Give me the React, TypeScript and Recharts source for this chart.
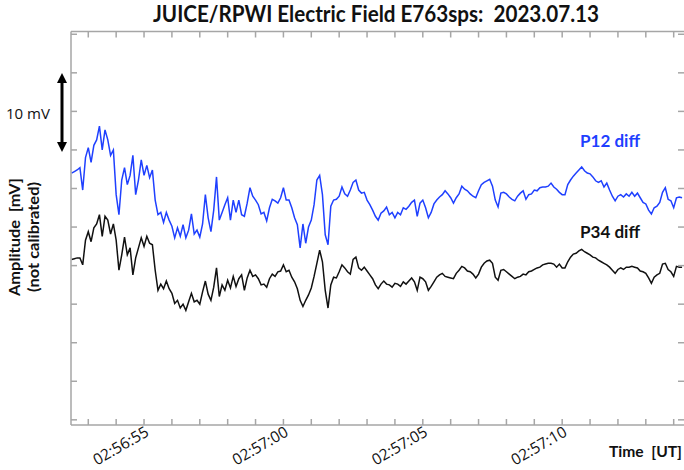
import React from "react";
import { LineChart, Line, XAxis, YAxis } from "recharts";

// time in seconds after 02:56:00 UT
const times = [
  52.4, 52.5, 52.6, 52.7, 52.8, 52.9, 53.0, 53.1, 53.2, 53.3,
  53.4, 53.5, 53.6, 53.7, 53.8, 53.9, 54.0, 54.1, 54.2, 54.3,
  54.4, 54.5, 54.6, 54.7, 54.8, 54.9, 55.0, 55.1, 55.2, 55.3,
  55.4, 55.5, 55.6, 55.7, 55.8, 55.9, 56.0, 56.1, 56.2, 56.3,
  56.4, 56.5, 56.6, 56.7, 56.8, 56.9, 57.0, 57.1, 57.2, 57.3,
  57.4, 57.5, 57.6, 57.7, 57.8, 57.9, 58.0, 58.1, 58.2, 58.3,
  58.4, 58.5, 58.6, 58.7, 58.8, 58.9, 59.0, 59.1, 59.2, 59.3,
  59.4, 59.5, 59.6, 59.7, 59.8, 59.9, 60.0, 60.1, 60.2, 60.3,
  60.4, 60.5, 60.6, 60.7, 60.8, 60.9, 61.0, 61.1, 61.2, 61.3,
  61.4, 61.5, 61.6, 61.7, 61.8, 61.9, 62.0, 62.1, 62.2, 62.3,
  62.4, 62.5, 62.6, 62.7, 62.8, 62.9, 63.0, 63.1, 63.2, 63.3,
  63.4, 63.5, 63.6, 63.7, 63.8, 63.9, 64.0, 64.1, 64.2, 64.3,
  64.4, 64.5, 64.6, 64.7, 64.8, 64.9, 65.0, 65.1, 65.2, 65.3,
  65.4, 65.5, 65.6, 65.7, 65.8, 65.9, 66.0, 66.1, 66.2, 66.3,
  66.4, 66.5, 66.6, 66.7, 66.8, 66.9, 67.0, 67.1, 67.2, 67.3,
  67.4, 67.5, 67.6, 67.7, 67.8, 67.9, 68.0, 68.1, 68.2, 68.3,
  68.4, 68.5, 68.6, 68.7, 68.8, 68.9, 69.0, 69.1, 69.2, 69.3,
  69.4, 69.5, 69.6, 69.7, 69.8, 69.9, 70.0, 70.1, 70.2, 70.3,
  70.4, 70.5, 70.6, 70.7, 70.8, 70.9, 71.0, 71.1, 71.2, 71.3,
  71.4, 71.5, 71.6, 71.7, 71.8, 71.9, 72.0, 72.1, 72.2, 72.3,
  72.4, 72.5, 72.6, 72.7, 72.8, 72.9, 73.0, 73.1, 73.2, 73.3,
  73.4, 73.5, 73.6, 73.7, 73.8, 73.9, 74.0, 74.1, 74.2, 74.3,
];

// P12 diff (mV, not calibrated)
const p12 = [
  7.0, 7.2, 7.4, 7.7, 4.8, 9.0, 10.3, 8.4, 10.6, 11.3,
  13.1, 10.0, 12.6, 11.3, 9.3, 10.0, 4.2, 1.6, 6.1, 7.7,
  5.5, 6.7, 9.3, 4.2, 6.1, 8.7, 6.7, 8.0, 6.4, 7.4,
  3.5, 1.6, 1.9, 0.6, 1.9, 0.9, 0.1, -1.4, -0.1, -1.2,
  0.3, -1.4, -0.4, 1.7, -0.9, -0.4, -1.3, 0.4, 4.2, 1.2,
  -0.6, 2.2, 6.5, 0.9, 1.9, 2.9, 3.8, 0.9, 3.5, 1.9,
  3.5, 1.6, 1.4, 3.1, 5.1, 4.0, 3.5, 2.9, 1.7, 1.9,
  0.8, 2.5, 3.6, 3.4, 3.1, 3.8, 5.1, 3.5, 3.5, 2.5,
  1.2, 0.3, -2.7, 0.4, -2.1, 0.0, 0.9, 2.9, 6.1, 6.7,
  4.2, -1.0, -2.3, 2.7, 3.5, 3.6, 4.0, 5.2, 4.3, 4.0,
  4.8, 5.8, 6.1, 4.8, 4.4, 4.5, 3.5, 2.9, 2.2, 1.4,
  0.9, 1.8, 2.1, 2.6, 1.6, 1.9, 1.2, 1.9, 1.6, 2.5,
  2.3, 2.7, 3.2, 3.5, 1.4, 3.1, 3.5, 2.5, 1.2, 1.9,
  3.0, 3.5, 3.9, 4.2, 4.7, 4.3, 3.8, 3.1, 3.8, 4.3,
  5.3, 4.9, 4.7, 4.3, 4.0, 3.8, 4.7, 5.5, 5.8, 6.0,
  6.2, 5.3, 3.5, 2.6, 4.4, 4.5, 4.3, 3.9, 3.6, 3.4,
  4.0, 4.4, 4.7, 3.6, 4.2, 4.3, 4.8, 4.7, 5.1, 5.2,
  5.2, 5.3, 5.7, 5.2, 4.9, 4.5, 4.2, 4.2, 5.5, 6.1,
  6.6, 7.0, 7.4, 7.8, 7.3, 7.0, 6.9, 6.5, 6.0, 5.8,
  6.0, 5.2, 5.7, 4.8, 4.0, 3.4, 4.0, 4.2, 3.9, 4.3,
  4.0, 4.5, 4.0, 4.4, 3.8, 3.2, 3.0, 2.2, 1.7, 2.5,
  2.7, 3.2, 4.5, 5.1, 3.6, 3.4, 2.5, 3.8, 3.9, 3.8,
];

// P34 diff (mV, not calibrated)
const p34 = [
  -4.2, -4.1, -4.0, -4.0, -4.9, -1.7, -0.6, -1.9, -0.1, 0.4,
  1.6, -1.2, 1.4, 0.9, -0.9, 0.4, -1.7, -5.6, -3.6, -1.3,
  -3.6, -2.7, -6.2, -4.0, -2.7, -1.4, -2.5, -1.2, -2.1, -2.3,
  -5.6, -8.2, -7.4, -8.0, -7.0, -8.0, -8.6, -9.9, -9.5, -10.5,
  -10.0, -10.8, -9.7, -8.6, -9.7, -9.5, -10.0, -8.4, -7.0, -8.7,
  -9.5, -7.8, -5.3, -9.0, -7.5, -8.2, -6.9, -7.9, -6.4, -7.7,
  -6.7, -6.2, -8.2, -6.6, -5.6, -6.4, -6.2, -6.7, -7.5, -7.4,
  -7.8, -6.7, -6.1, -6.4, -5.8, -5.7, -4.9, -5.8, -5.6, -6.5,
  -7.1, -8.0, -9.5, -10.3, -9.5, -8.8, -7.9, -6.4, -4.7, -3.0,
  -4.5, -8.2, -10.5, -7.5, -6.5, -6.6, -5.8, -4.9, -5.3, -5.8,
  -6.1, -4.2, -3.9, -5.3, -5.6, -5.2, -5.7, -6.2, -6.7, -7.5,
  -8.0, -7.4, -7.0, -7.4, -7.5, -7.8, -7.3, -7.4, -7.7, -7.1,
  -7.4, -7.0, -6.6, -7.1, -8.2, -6.5, -6.7, -7.1, -8.2, -7.7,
  -7.1, -6.5, -6.2, -6.0, -6.4, -6.5, -6.6, -6.7, -6.0, -5.6,
  -5.1, -5.3, -5.7, -5.8, -6.1, -6.6, -6.1, -5.2, -4.7, -4.4,
  -4.3, -4.7, -6.5, -6.9, -5.6, -5.5, -5.8, -6.1, -6.4, -6.7,
  -6.5, -6.4, -6.1, -6.2, -5.8, -5.7, -5.5, -5.3, -5.2, -4.9,
  -4.8, -4.7, -4.7, -4.8, -5.2, -4.8, -5.3, -5.3, -4.5, -3.9,
  -3.5, -3.4, -3.1, -2.9, -3.2, -3.4, -3.6, -3.9, -4.0, -4.3,
  -4.5, -4.7, -4.9, -5.2, -5.6, -6.0, -5.5, -5.3, -5.5, -5.2,
  -5.2, -5.1, -5.2, -5.3, -5.7, -5.8, -6.0, -6.6, -7.3, -6.5,
  -6.2, -6.0, -4.8, -4.7, -5.5, -5.8, -6.4, -5.1, -5.2, -5.2,
];

const timeTicks = [53, 54, 55, 56, 57, 58, 59, 60, 61, 62, 63, 64, 65, 66, 67, 68, 69, 70, 71, 72, 73, 74];
const labelTicks = [55, 60, 65, 70];
const labelTexts = ["02:56:55", "02:57:00", "02:57:05", "02:57:10"];
const yTicks = [-25, -20, -15, -10, -5, 0, 5, 10, 15, 20, 25];

const data = times.map((t, i) => ({ t, p12: p12[i], p34: p34[i] }));

const AXIS = "#a6a6a6";
const axisLine = { stroke: AXIS, strokeWidth: 1.5 };
const tickLine = { stroke: AXIS, strokeWidth: 1.5 };
const noTick = () => <g />;

const BottomTick = (props: any) => {
  const { x, y, payload } = props;
  const idx = labelTicks.indexOf(payload.value);
  if (idx < 0) return <g />;
  const ax = x + 6;
  const ay = y + 14;
  return (
    <text
      x={ax}
      y={ay}
      textAnchor="end"
      transform={`rotate(-30, ${ax}, ${ay})`}
      fontFamily="'Open Sans', sans-serif"
      fontSize={15.5}
      fill="#111"
    >
      {labelTexts[idx]}
    </text>
  );
};

export default function App() {
  return (
    <div style={{ position: "absolute", left: 0, top: 0, width: 684, height: 470, overflow: "hidden", background: "#fff" }}>
      <LineChart width={685} height={470} data={data} margin={{ top: 30.5, right: 0, bottom: 0, left: 0 }}>
        <XAxis
          xAxisId="b"
          dataKey="t"
          type="number"
          domain={[52.38, 74.37]}
          allowDataOverflow
          ticks={timeTicks}
          interval={0}
          height={45}
          tickSize={-6}
          axisLine={axisLine}
          tickLine={tickLine}
          tick={BottomTick}
        />
        <XAxis
          xAxisId="top"
          orientation="top"
          dataKey="t"
          type="number"
          domain={[52.38, 74.37]}
          allowDataOverflow
          ticks={timeTicks}
          interval={0}
          height={1}
          tickSize={-6}
          axisLine={axisLine}
          tickLine={tickLine}
          tick={noTick}
        />
        <YAxis
          yAxisId="l"
          type="number"
          domain={[-25.67, 25.36]}
          allowDataOverflow
          ticks={yTicks}
          interval={0}
          width={71}
          tickSize={-6}
          axisLine={axisLine}
          tickLine={tickLine}
          tick={noTick}
        />
        <YAxis
          yAxisId="r"
          orientation="right"
          type="number"
          domain={[-25.67, 25.36]}
          allowDataOverflow
          ticks={yTicks}
          interval={0}
          width={1}
          tickSize={-6}
          axisLine={false}
          tickLine={tickLine}
          tick={noTick}
        />
        <Line
          xAxisId="b"
          yAxisId="l"
          dataKey="p12"
          type="linear"
          stroke="#1f40ff"
          strokeWidth={1.5}
          dot={false}
          isAnimationActive={false}
        />
        <Line
          xAxisId="b"
          yAxisId="l"
          dataKey="p34"
          type="linear"
          stroke="#111"
          strokeWidth={1.5}
          dot={false}
          isAnimationActive={false}
        />
      </LineChart>
      <svg
        width={684}
        height={470}
        style={{ position: "absolute", left: 0, top: 0, pointerEvents: "none" }}
      >
        <text
          x={376}
          y={22}
          textAnchor="middle"
          fontFamily="Lato, sans-serif"
          fontWeight="bold"
          fontSize={22}
          fill="#111"
          textLength={446}
          lengthAdjust="spacingAndGlyphs"
          style={{ whiteSpace: "pre" }}
        >
          {"JUICE/RPWI Electric Field E763sps:  2023.07.13"}
        </text>
        <text x={6} y={119} fontFamily="'Open Sans', sans-serif" fontSize={15} fill="#111" textLength={44} lengthAdjust="spacingAndGlyphs">
          10 mV
        </text>
        <line x1={62} y1={80} x2={62} y2={145} stroke="#000" strokeWidth={3} />
        <polygon points="62,73 57,83 67,83" fill="#000" />
        <polygon points="62,152 57,142 67,142" fill="#000" />
        <text
          x={0}
          y={0}
          transform="translate(20, 237) rotate(-90)"
          textAnchor="middle"
          fontFamily="Lato, sans-serif"
          fontWeight="bold"
          fontSize={15}
          fill="#111"
          textLength={118}
          lengthAdjust="spacingAndGlyphs"
          style={{ whiteSpace: "pre" }}
        >
          {"Amplitude  [mV]"}
        </text>
        <text
          x={0}
          y={0}
          transform="translate(39, 237) rotate(-90)"
          textAnchor="middle"
          fontFamily="Lato, sans-serif"
          fontWeight="bold"
          fontSize={15}
          fill="#111"
          textLength={110}
          lengthAdjust="spacingAndGlyphs"
        >
          (not calibrated)
        </text>
        <text x={580} y={147} fontFamily="Lato, sans-serif" fontWeight="bold" fontSize={17} fill="#1f3fff" textLength={60} lengthAdjust="spacingAndGlyphs">
          P12 diff
        </text>
        <text x={580} y={238} fontFamily="Lato, sans-serif" fontWeight="bold" fontSize={17} fill="#111" textLength={60} lengthAdjust="spacingAndGlyphs">
          P34 diff
        </text>
        <text
          x={609}
          y={457}
          fontFamily="Lato, sans-serif"
          fontWeight="bold"
          fontSize={16}
          fill="#111"
          textLength={73}
          lengthAdjust="spacingAndGlyphs"
          style={{ whiteSpace: "pre" }}
        >
          {"Time  [UT]"}
        </text>
      </svg>
    </div>
  );
}
